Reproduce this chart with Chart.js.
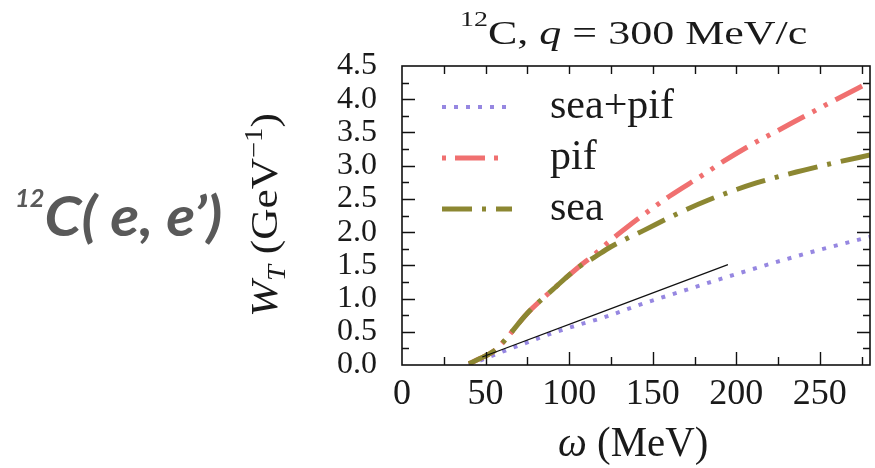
<!DOCTYPE html>
<html><head><meta charset="utf-8">
<script src="https://cdn.jsdelivr.net/npm/chart.js@4.4.0/dist/chart.umd.min.js"></script>
<style>
html,body{margin:0;padding:0;background:#fff;}
#wrap{position:relative;width:875px;height:468px;overflow:hidden;background:#fff;}
#c{position:absolute;left:0;top:0;}
.t{position:absolute;white-space:nowrap;font-family:"Liberation Serif","DejaVu Serif",serif;color:#1a1a1a;transform-origin:0 0;line-height:1;}
.t sup,.t sub{font-size:.66em;position:relative;vertical-align:baseline;line-height:0;}
#ann{font-family:Lato,"Open Sans","Liberation Sans",sans-serif;font-weight:700;font-style:italic;color:#595959;}
</style></head><body>
<div id="wrap">
<canvas id="c" width="875" height="468"></canvas>
<div id="ann" class="t" style="font-size:56px"><sup style="font-size:24px;top:-29px">12</sup>C( e, e’)</div>
<div id="title" class="t" style="font-size:33px"><sup style="font-size:21px;top:-18px">12</sup>C, <i>q</i> = 300 MeV/c</div>
<div id="xt" class="t" style="font-size:42px"><i>ω</i> (MeV)</div>
<div id="yt" class="t" style="font-size:38px"><i>W</i><sub style="top:8px"><i>T</i></sub> (GeV<sup style="top:-15px">−1</sup>)</div>
</div>
<script>
// ---- data ----
const omegaSum = [40, 50, 60, 75, 90, 105, 120, 145, 170, 195, 220, 245, 280];
const wSum     = [0.0, 0.1, 0.2, 0.34, 0.48, 0.6, 0.71, 0.93, 1.13, 1.33, 1.52, 1.7, 1.93];

const omegaPif = [40, 47, 55, 60, 75, 90, 105, 115, 125, 135, 145, 160, 180, 192, 210, 225, 242, 260, 280];
const wPif     = [0.02, 0.1, 0.21, 0.33, 0.78, 1.13, 1.46, 1.66, 1.88, 2.08, 2.27, 2.54, 2.86, 3.06, 3.33, 3.53, 3.76, 4.0, 4.26];

const omegaSea = [40, 47, 55, 60, 75, 90, 105, 115, 125, 145, 165, 183, 212, 240, 260, 280];
const wSea     = [0.02, 0.1, 0.21, 0.33, 0.78, 1.13, 1.46, 1.62, 1.78, 2.03, 2.28, 2.48, 2.74, 2.93, 3.05, 3.16];

const omegaRef = [48, 195];
const wRef     = [0.12, 1.51];

const xTickValues = [0, 50, 100, 150, 200, 250];
const yTickLabels = ['0.0','0.5','1.0','1.5','2.0','2.5','3.0','3.5','4.0','4.5'];
const xMinorStep = 25, yMinorStep = 0.25;

const pts = (xs, ys) => xs.map((x, i) => ({x, y: ys[i]}));

const framePlugin = {
  id: 'frame',
  afterDatasetsDraw(chart) {
    const {ctx, chartArea: a, scales: {x, y}} = chart;
    ctx.save();
    ctx.strokeStyle = '#111';
    ctx.lineWidth = 1.6;
    ctx.strokeRect(a.left, a.top, a.right - a.left, a.bottom - a.top);
    ctx.lineWidth = 1.4;
    ctx.beginPath();
    for (let v = x.min; v <= x.max + 1e-9; v += xMinorStep) {
      const px = Math.round(x.getPixelForValue(v)) + 0.5;
      if (px <= a.left + 1 || px >= a.right - 1) continue;
      const major = Math.abs(v % 50) < 1e-9;
      ctx.moveTo(px, a.bottom); ctx.lineTo(px, a.bottom - (major ? 13 : 8));
      ctx.moveTo(px, a.top); ctx.lineTo(px, a.top + 8);
    }
    for (let v = y.min; v <= y.max + 1e-9; v += yMinorStep) {
      const py = Math.round(y.getPixelForValue(v)) + 0.5;
      if (py <= a.top + 1 || py >= a.bottom - 1) continue;
      const major = Math.abs((v / 0.5) - Math.round(v / 0.5)) < 1e-9;
      const L = major ? 13 : 7;
      ctx.moveTo(a.left, py); ctx.lineTo(a.left + L, py);
      ctx.moveTo(a.right, py); ctx.lineTo(a.right - L, py);
    }
    ctx.stroke();
    ctx.restore();
  }
};

const legendPlugin = {
  id: 'inlegend',
  afterDraw(chart) {
    const {ctx, chartArea: a} = chart;
    const items = chart.data.datasets.filter(d => d.label);
    ctx.save();
    items.forEach((d, i) => {
      const yy = a.top + 41 + i * 51;
      ctx.strokeStyle = d.borderColor;
      ctx.lineWidth = d.borderWidth;
      ctx.setLineDash(d.borderDash || []);
      ctx.lineDashOffset = d.legendDashOffset || 0;
      ctx.beginPath();
      ctx.moveTo(a.left + 40, yy);
      ctx.lineTo(a.left + d.legendLen, yy);
      ctx.stroke();
      ctx.setLineDash([]);
      ctx.fillStyle = '#1a1a1a';
      ctx.font = '42px "Liberation Serif", serif';
      ctx.textBaseline = 'alphabetic';
      ctx.fillText(d.label, a.left + 148, yy + 11);
    });
    ctx.restore();
  }
};

Chart.defaults.font.family = '"Liberation Serif", "DejaVu Serif", serif';
Chart.defaults.color = '#1a1a1a';

new Chart(document.getElementById('c'), {
  type: 'line',
  data: {
    datasets: [
      {label: 'sea+pif', data: pts(omegaSum, wSum), borderColor: 'rgb(150,135,225)', borderWidth: 4,
       borderDash: [4, 8], legendLen: 106, legendDashOffset: 0, order: 3},
      {label: 'pif', data: pts(omegaPif, wPif), borderColor: 'rgb(240,112,112)', borderWidth: 5,
       borderDash: [30, 9, 4, 9, 4, 9], legendLen: 99, legendDashOffset: 52, order: 2},
      {label: 'sea', data: pts(omegaSea, wSea), borderColor: 'rgb(140,135,50)', borderWidth: 5,
       borderDash: [30, 10, 4, 10], legendLen: 110, legendDashOffset: 0, order: 1},
      {label: '', data: pts(omegaRef, wRef), borderColor: '#111', borderWidth: 1.2, order: 0}
    ]
  },
  options: {
    responsive: false,
    animation: false,
    devicePixelRatio: 1,
    elements: {point: {radius: 0}, line: {cubicInterpolationMode: 'monotone', borderCapStyle: 'butt'}},
    layout: {padding: {left: 0, top: 66, right: 5, bottom: 0}},
    plugins: {legend: {display: false}, tooltip: {enabled: false}, title: {display: false}},
    scales: {
      x: {
        type: 'linear', min: 0, max: 280,
        afterBuildTicks: s => { s.ticks = xTickValues.map(v => ({value: v})); },
        ticks: {padding: 8, font: {size: 36}, color: '#1a1a1a', maxRotation: 0, autoSkip: false,
                callback: v => String(v)},
        grid: {display: false, drawTicks: false},
        border: {display: false},
        afterFit: s => { s.height = 103; }
      },
      y: {
        type: 'linear', min: 0, max: 4.5,
        afterBuildTicks: s => { s.ticks = yTickLabels.map(t => ({value: parseFloat(t)})); },
        ticks: {padding: 25, font: {size: 32}, color: '#1a1a1a', autoSkip: false,
                callback: (v, i) => yTickLabels[i]},
        grid: {display: false, drawTicks: false},
        border: {display: false},
        afterFit: s => { s.width = 402; }
      }
    }
  },
  plugins: [framePlugin, legendPlugin]
});

function place(id, left, top, width, rotate) {
  const el = document.getElementById(id);
  el.style.transform = 'none';
  const w = el.offsetWidth;
  const s = width / w;
  el.style.left = left + 'px';
  el.style.top = top + 'px';
  el.style.transform = (rotate ? 'rotate(-90deg) ' : '') + 'scaleX(' + s.toFixed(4) + ')';
}
function layoutText() {
  place('ann', 15, 187, 207);
  place('title', 460, 17, 348);
  place('xt', 558, 421, 150);
  place('yt', 245, 317, 204, true);
}
layoutText();
if (document.fonts && document.fonts.ready) document.fonts.ready.then(layoutText);
</script>
</body></html>
